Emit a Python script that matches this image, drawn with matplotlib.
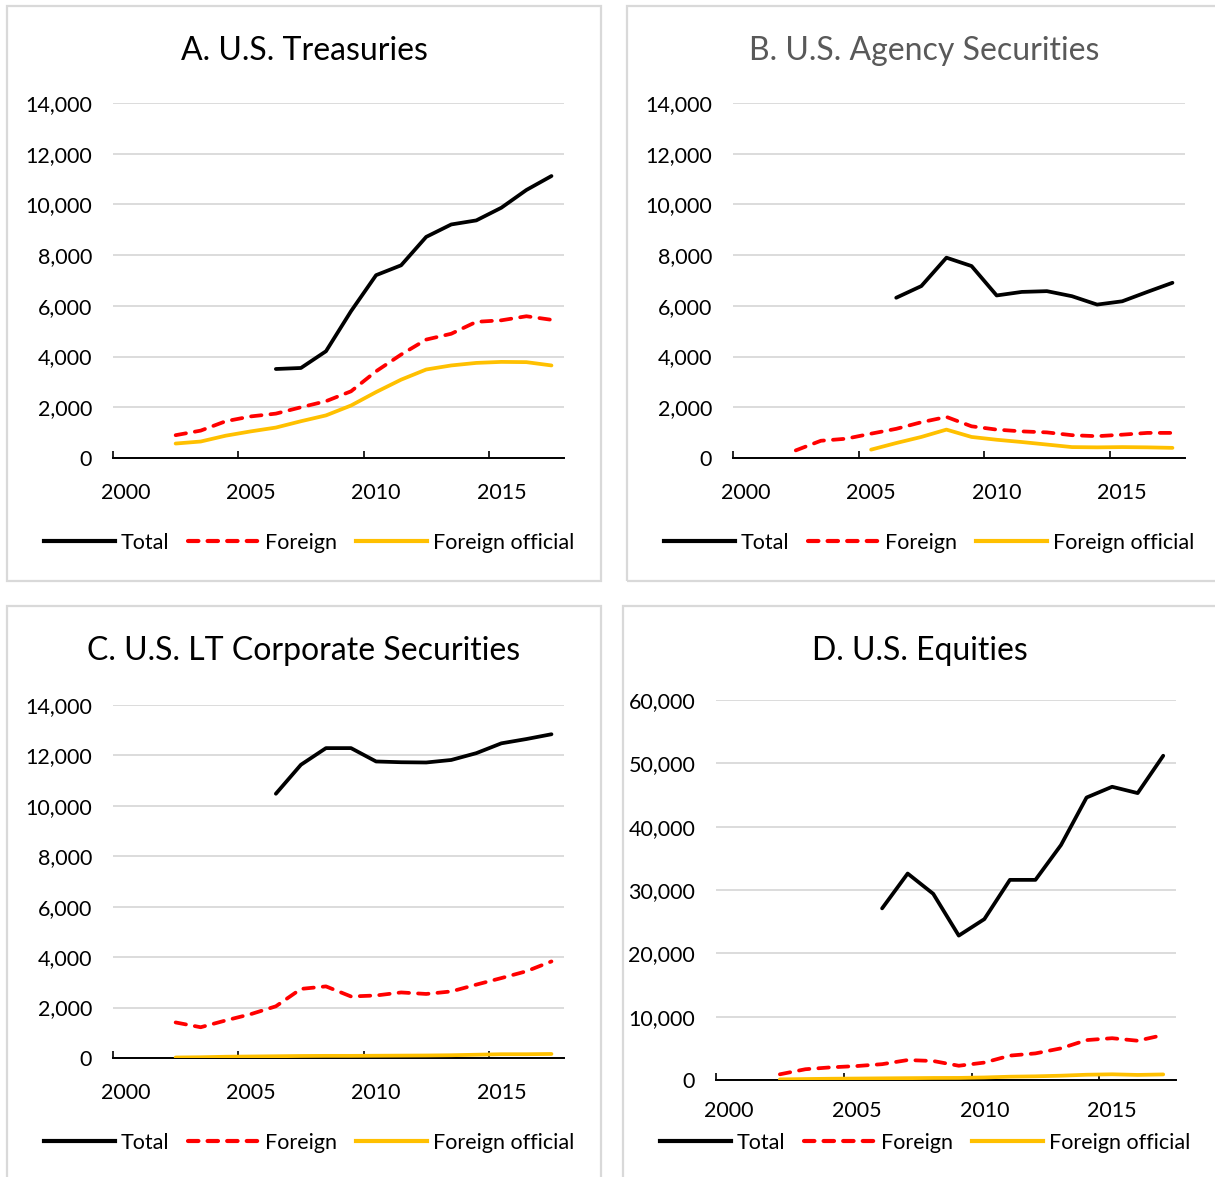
"""
Holdings of U.S. securities: total vs foreign vs foreign official (4 panels)
"""
import matplotlib
matplotlib.use("Agg")
import matplotlib.pyplot as plt
from matplotlib.patches import Rectangle
from matplotlib.lines import Line2D
from matplotlib.ticker import FuncFormatter

plt.rcParams["font.family"] = ["Lato", "DejaVu Sans"]

# ---- data ----
years_total = list(range(2006, 2018))
years_foreign = list(range(2002, 2018))
years_agency_official = list(range(2005, 2018))

treas_total = [3510, 3550, 4210, 5790, 7210, 7600, 8720, 9210, 9370, 9870, 10570, 11120]
treas_foreign = [900, 1080, 1450, 1640, 1750, 2000, 2240, 2630, 3420, 4080, 4670, 4900,
                 5370, 5430, 5590, 5450]
treas_official = [570, 650, 880, 1050, 1200, 1450, 1680, 2070, 2600, 3090, 3490, 3650,
                  3750, 3790, 3780, 3650]

agency_total = [6320, 6780, 7900, 7570, 6410, 6550, 6580, 6380, 6050, 6180, 6550, 6910]
agency_foreign = [300, 680, 760, 960, 1150, 1410, 1620, 1250, 1120, 1050, 1010, 900,
                  860, 920, 990, 990]
agency_official = [330, 590, 830, 1120, 830, 720, 630, 530, 430, 420, 430, 420, 400]

corp_total = [10480, 11630, 12290, 12290, 11760, 11730, 11720, 11820, 12090, 12480,
              12650, 12840]
corp_foreign = [1410, 1220, 1490, 1740, 2050, 2740, 2840, 2440, 2480, 2600, 2540, 2640,
                2910, 3170, 3440, 3830]
corp_official = [20, 30, 50, 60, 70, 80, 85, 85, 90, 95, 100, 110, 130, 150, 150, 160]

eq_total = [27100, 32600, 29400, 22800, 25400, 31600, 31600, 37100, 44600, 46300,
            45300, 51200]
eq_foreign = [900, 1700, 2000, 2200, 2500, 3150, 3000, 2250, 2750, 3850, 4200, 5000,
              6300, 6600, 6200, 7100]
eq_official = [100, 150, 200, 230, 260, 290, 320, 330, 400, 520, 580, 680, 830, 900,
               800, 880]

titles = ["A. U.S. Treasuries", "B. U.S. Agency Securities",
          "C. U.S. LT Corporate Securities", "D. U.S. Equities"]
title_colors = ["black", "#595959", "black", "black"]
series_labels = ["Total", "Foreign", "Foreign official"]
year_labels = [2000, 2005, 2010, 2015]

BLACK = "#000000"
RED = "#FF0000"
GOLD = "#FFC000"
GRID = "#D9D9D9"

W, H = 1215, 1177
fig = plt.figure(figsize=(W / 100, H / 100), dpi=100)


def px_rect(left, top, right, bottom):
    # pixel box -> figure fraction [l, b, w, h]
    return [left / W, 1 - bottom / H, (right - left) / W, (bottom - top) / H]


# panel frames (pixel coords)
frames = [(7, 6, 601, 581), (627, 6, 1222, 581), (7, 606, 601, 1190), (623, 606, 1222, 1190)]
for l, t, r, b in frames:
    fig.patches.append(Rectangle((l / W, 1 - b / H), (r - l) / W, (b - t) / H,
                                 transform=fig.transFigure, fill=False,
                                 edgecolor=GRID, linewidth=1.6))

axes_boxes = [(113, 103, 564, 458), (733, 103, 1185, 458),
              (113, 705, 564, 1058), (716, 700, 1176, 1080)]
ylims = [14000, 14000, 14000, 60000]
ysteps = [2000, 2000, 2000, 10000]
title_pos = [(304, 51), (924, 51), (304, 651), (920, 651)]
legend_pos = [(309, 543), (929, 543), (309, 1143), (925, 1143)]

panels = [
    (treas_total, years_foreign, treas_foreign, years_foreign, treas_official),
    (agency_total, years_foreign, agency_foreign, years_agency_official, agency_official),
    (corp_total, years_foreign, corp_foreign, years_foreign, corp_official),
    (eq_total, years_foreign, eq_foreign, years_foreign, eq_official),
]

for i, (tot, yf, fo, yo, off) in enumerate(panels):
    ax = fig.add_axes(px_rect(*axes_boxes[i]))
    ax.plot(yo, off, color=GOLD, lw=2.7, solid_capstyle="round", solid_joinstyle="round")
    ax.plot(yf, fo, color=RED, lw=2.7, linestyle=(0, (2.8, 2.4)),
            dash_capstyle="round", dash_joinstyle="round")
    ax.plot(years_total, tot, color=BLACK, lw=2.7, solid_capstyle="round",
            solid_joinstyle="round")

    ax.set_xlim(1999.5, 2017.5)
    ax.set_ylim(0, ylims[i])
    ax.set_yticks(range(0, ylims[i] + 1, ysteps[i]))
    ax.yaxis.set_major_formatter(FuncFormatter(lambda v, p: f"{int(v):,}"))
    ax.grid(axis="y", color=GRID, linewidth=1.3)
    ax.set_axisbelow(True)
    for s in ["top", "right", "left"]:
        ax.spines[s].set_visible(False)
    ax.spines["bottom"].set_linewidth(1.4)
    ax.spines["bottom"].set_zorder(1)
    ax.tick_params(axis="y", length=0, pad=15, labelsize=15.5)

    # tick marks on category boundaries, labels centred on categories
    ax.set_xticks([1999.5, 2004.5, 2009.5, 2014.5])
    ax.set_xticklabels([])
    ax.tick_params(axis="x", which="major", direction="in", length=5, width=1.2)
    ax.set_xticks(year_labels, minor=True)
    ax.set_xticklabels([str(y) for y in year_labels], minor=True)
    ax.tick_params(axis="x", which="minor", length=0, pad=18 if i < 3 else 15,
                   labelsize=15.5)

    tx, ty = title_pos[i]
    fig.text(tx / W, 1 - ty / H, titles[i], ha="center", va="center",
             fontsize=23, color=title_colors[i])

    handles = [Line2D([], [], color=BLACK, lw=3),
               Line2D([], [], color=RED, lw=3, linestyle=(0, (2.5, 2.2)),
                      dash_capstyle="round"),
               Line2D([], [], color=GOLD, lw=3)]
    lx, ly = legend_pos[i]
    fig.legend(handles, series_labels, loc="center", ncol=3, frameon=False,
               bbox_to_anchor=(lx / W, 1 - ly / H), fontsize=15.5,
               handlelength=3.3, handletextpad=0.25, columnspacing=0.9)

fig.savefig("out.png", dpi=100)
